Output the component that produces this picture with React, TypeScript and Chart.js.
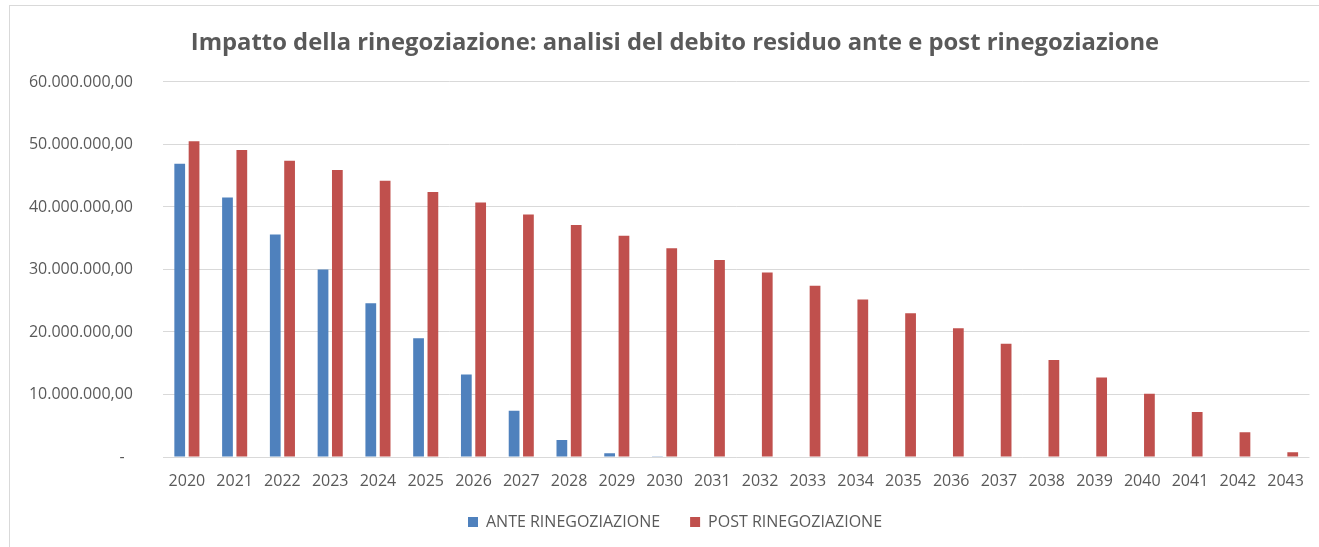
import React, { useEffect, useRef } from "react";
import { Chart, registerables } from "chart.js";

Chart.register(...registerables);

const TITLE = "Impatto della rinegoziazione: analisi del debito residuo ante e post rinegoziazione";

const years = [
  "2020", "2021", "2022", "2023", "2024", "2025", "2026", "2027",
  "2028", "2029", "2030", "2031", "2032", "2033", "2034", "2035",
  "2036", "2037", "2038", "2039", "2040", "2041", "2042", "2043",
];

const anteLabel = "ANTE RINEGOZIAZIONE";
const anteValues = [
  46900000, 41500000, 35600000, 30000000, 24600000, 19000000, 13200000, 7400000,
  2700000, 600000, 100000, 0, 0, 0, 0, 0,
  0, 0, 0, 0, 0, 0, 0, 0,
];

const postLabel = "POST RINEGOZIAZIONE";
const postValues = [
  50500000, 49100000, 47400000, 45900000, 44200000, 42400000, 40700000, 38800000,
  37100000, 35400000, 33400000, 31500000, 29500000, 27400000, 25200000, 23000000,
  20600000, 18100000, 15500000, 12700000, 10100000, 7200000, 3950000, 750000,
];

const yMin = 0;
const yMax = 60000000;
const yStep = 10000000;

const FONT = "'Open Sans', 'Liberation Sans', sans-serif";
const TEXT = "#595959";
const GRID = "#d9d9d9";

function formatIt(v: number): string {
  if (v === 0) return "-  ";
  const s = Math.round(v).toString().replace(/\B(?=(\d{3})+(?!\d))/g, ".");
  return s + ",00";
}

// Centre title and legend on the frame rather than on the whole canvas.
const shiftBoxes = {
  id: "shiftBoxes",
  afterLayout(chart: any) {
    const dx = 38;
    if (chart.titleBlock) {
      chart.titleBlock.left += dx;
    }
    if (chart.legend) {
      chart.legend.left += dx;
      chart.legend.top -= 7;
      chart.legend.bottom -= 7;
    }
  },
};

export default function App() {
  const ref = useRef<HTMLCanvasElement | null>(null);

  useEffect(() => {
    if (!ref.current) return;
    const chart = new Chart(ref.current, {
      type: "bar",
      data: {
        labels: years,
        datasets: [
          {
            label: anteLabel,
            data: anteValues,
            backgroundColor: "#4F81BD",
            borderWidth: 0,
            categoryPercentage: 0.6,
            barPercentage: 0.75,
          },
          {
            label: postLabel,
            data: postValues,
            backgroundColor: "#C0504D",
            borderWidth: 0,
            categoryPercentage: 0.6,
            barPercentage: 0.75,
          },
        ],
      },
      plugins: [shiftBoxes],
      options: {
        responsive: false,
        animation: false,
        devicePixelRatio: 1,
        layout: { padding: { left: 0, right: 7, top: 0, bottom: 0 } },
        plugins: {
          tooltip: { enabled: false },
          title: {
            display: true,
            text: TITLE,
            color: TEXT,
            font: { family: FONT, size: 23.8, weight: "bold" },
            padding: { top: 28.6, bottom: 24.8 },
          },
          legend: {
            position: "bottom",
            maxHeight: 56,
            labels: {
              boxWidth: 10,
              boxHeight: 10,
              padding: 30,
              color: TEXT,
              font: { family: FONT, size: 16 },
            },
          },
        },
        scales: {
          x: {
            grid: { display: false, drawTicks: false },
            border: { display: false },
            ticks: {
              color: TEXT,
              font: { family: FONT, size: 16 },
              padding: 15,
              maxRotation: 0,
              autoSkip: false,
            },
            afterFit: (scale: any) => {
              scale.height = 34;
            },
          },
          y: {
            min: yMin,
            max: yMax,
            grid: { color: GRID, lineWidth: 1, drawTicks: false },
            border: { display: false },
            ticks: {
              stepSize: yStep,
              color: TEXT,
              font: { family: FONT, size: 16 },
              padding: 30,
              callback: (v: any) => formatIt(Number(v)),
            },
            afterFit: (scale: any) => {
              scale.width = 163;
            },
          },
        },
      },
    });
    return () => chart.destroy();
  }, []);

  return (
    <div
      style={{
        position: "fixed",
        left: 0,
        top: 0,
        width: 1319,
        height: 547,
        background: "#ffffff",
        overflow: "hidden",
      }}
    >
      <div
        style={{
          position: "absolute",
          left: 9,
          top: 5,
          width: 1330,
          height: 560,
          border: "1px solid #d9d9d9",
          boxSizing: "border-box",
        }}
      />
      <canvas
        ref={ref}
        width={1319}
        height={547}
        style={{ position: "absolute", left: 0, top: 0, width: 1319, height: 547 }}
      />
    </div>
  );
}
